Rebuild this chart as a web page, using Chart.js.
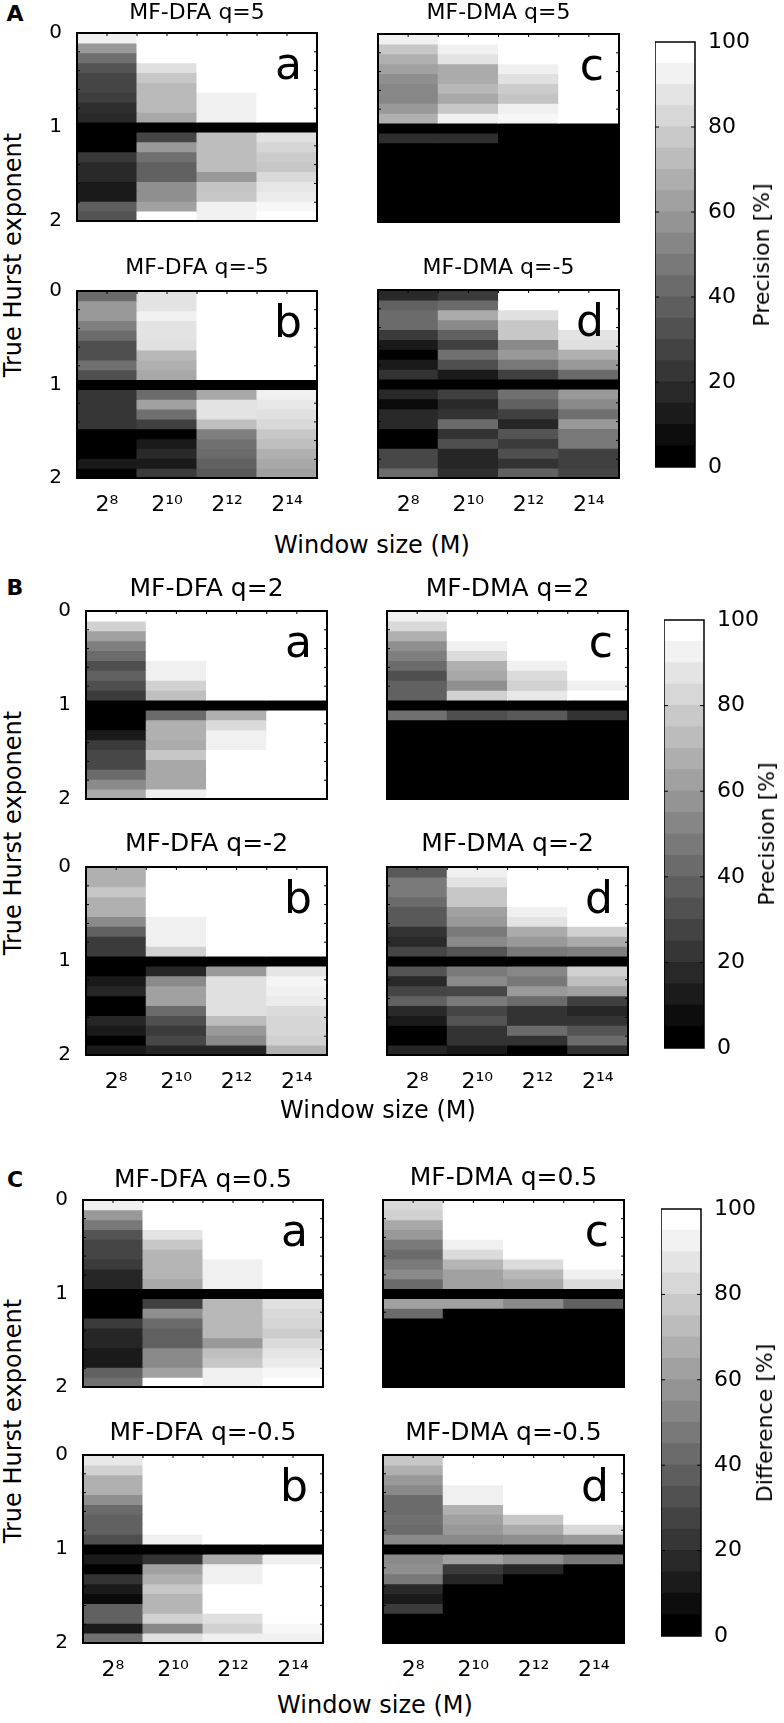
<!DOCTYPE html>
<html>
<head>
<meta charset="utf-8">
<script src="https://cdn.jsdelivr.net/npm/chart.js@4.4.1/dist/chart.umd.min.js"></script>
<style>
  html, body { margin: 0; padding: 0; background: #fff; }
  #fig { position: relative; width: 784px; height: 1723px; overflow: hidden; font-family: 'DejaVu Sans', sans-serif; color: #000; }
  #fig canvas { position: absolute; }
  .lbl { position: absolute; white-space: nowrap; line-height: 1; }
</style>
</head>
<body>
<div id="fig"></div>
<script>
// window sizes (columns) and true Hurst exponents (rows, top to bottom)
const windowLabels = ['2⁸', '2¹⁰', '2¹²', '2¹⁴'];
const hurstRows = ['0.1', '0.2', '0.3', '0.4', '0.5', '0.6', '0.7', '0.8', '0.9', '1.0',
                   '1.1', '1.2', '1.3', '1.4', '1.5', '1.6', '1.7', '1.8', '1.9'];
const hurstTicks = ['0', '1', '2'];
const colorbarTicks = [0, 20, 40, 60, 80, 100];
const colorbarLevels = [0, 5, 10, 15, 20, 25, 30, 35, 40, 45, 50, 55, 60, 65, 70, 75, 80, 85, 90, 95];

// precision / difference [%], one row per Hurst value: [2^8, 2^10, 2^12, 2^14]
const dfaQ5 = [
  [94, 100, 100, 100], [60, 100, 100, 100], [43, 100, 100, 100], [33, 88, 100, 100],
  [27, 78, 100, 100], [27, 73, 100, 100], [24, 73, 94, 100], [18, 73, 94, 100],
  [16, 66, 94, 100], [0, 0, 0, 0], [0, 27, 74, 88], [0, 60, 74, 84],
  [22, 44, 74, 80], [16, 38, 74, 78], [16, 38, 60, 85], [10, 56, 77, 90],
  [10, 56, 78, 92], [37, 63, 94, 97], [33, 100, 94, 100]
];
const dmaQ5 = [
  [94, 100, 100, 100], [78, 94, 100, 100], [69, 89, 100, 100], [63, 67, 94, 100],
  [56, 67, 88, 100], [53, 72, 80, 100], [53, 66, 77, 100], [60, 78, 94, 100],
  [69, 94, 97, 100], [0, 0, 0, 0], [18, 18, 0, 0], [0, 0, 0, 0],
  [0, 0, 0, 0], [0, 0, 0, 0], [0, 0, 0, 0], [0, 0, 0, 0],
  [0, 0, 0, 0], [0, 0, 0, 0], [0, 0, 0, 0]
];
const dfaQm5 = [
  [42, 89, 100, 100], [60, 89, 100, 100], [60, 94, 100, 100], [50, 89, 100, 100],
  [42, 89, 100, 100], [31, 88, 100, 100], [31, 72, 100, 100], [44, 69, 100, 100],
  [31, 66, 100, 100], [0, 0, 0, 0], [21, 42, 66, 94], [21, 63, 89, 91],
  [21, 44, 89, 88], [21, 25, 75, 85], [0, 0, 50, 78], [0, 10, 44, 75],
  [0, 16, 42, 69], [10, 10, 38, 66], [0, 23, 35, 63]
];
const dmaQm5 = [
  [16, 23, 100, 100], [38, 42, 100, 100], [42, 67, 88, 100], [42, 54, 78, 100],
  [23, 38, 78, 89], [10, 25, 54, 88], [0, 44, 60, 69], [10, 31, 47, 60],
  [20, 10, 25, 42], [0, 0, 0, 0], [16, 25, 44, 60], [4, 16, 38, 54],
  [16, 20, 25, 44], [16, 42, 15, 60], [0, 20, 33, 47], [0, 31, 23, 47],
  [28, 15, 31, 25], [28, 15, 20, 25], [42, 18, 38, 27]
];
const dfaQ2 = [
  [100, 100, 100, 100], [82, 100, 100, 100], [63, 100, 100, 100], [50, 100, 100, 100],
  [42, 100, 100, 100], [31, 94, 100, 100], [38, 94, 100, 100], [31, 82, 100, 100],
  [23, 75, 100, 100], [0, 0, 0, 0], [0, 42, 69, 100], [0, 69, 86, 100],
  [10, 69, 94, 100], [23, 67, 94, 100], [28, 78, 100, 100], [28, 66, 100, 100],
  [42, 66, 100, 100], [54, 66, 100, 100], [67, 94, 100, 100]
];
const dmaQ2 = [
  [94, 100, 100, 100], [85, 100, 100, 100], [69, 100, 100, 100], [56, 94, 100, 100],
  [50, 86, 100, 100], [42, 69, 94, 100], [31, 66, 86, 100], [38, 56, 82, 94],
  [38, 82, 91, 100], [0, 0, 0, 0], [44, 31, 35, 20], [0, 0, 0, 0],
  [0, 0, 0, 0], [0, 0, 0, 0], [0, 0, 0, 0], [0, 0, 0, 0],
  [0, 0, 0, 0], [0, 0, 0, 0], [0, 0, 0, 0]
];
const dfaQm2 = [
  [69, 100, 100, 100], [69, 100, 100, 100], [78, 100, 100, 100], [69, 100, 100, 100],
  [69, 100, 100, 100], [54, 94, 100, 100], [38, 94, 100, 100], [23, 94, 100, 100],
  [23, 82, 100, 100], [0, 0, 0, 0], [0, 15, 60, 90], [10, 54, 88, 96],
  [15, 63, 88, 94], [0, 63, 88, 92], [0, 42, 88, 86], [15, 31, 74, 84],
  [10, 23, 60, 84], [0, 28, 54, 82], [10, 15, 15, 70]
];
const dmaQm2 = [
  [35, 94, 100, 100], [48, 89, 100, 100], [48, 78, 100, 100], [42, 78, 100, 100],
  [35, 63, 94, 100], [35, 60, 89, 100], [20, 48, 67, 82], [16, 54, 60, 67],
  [27, 33, 47, 50], [0, 0, 0, 0], [33, 48, 53, 82], [16, 54, 47, 75],
  [27, 28, 60, 63], [38, 48, 42, 25], [16, 27, 20, 15], [10, 33, 20, 20],
  [0, 20, 42, 33], [0, 20, 20, 42], [15, 10, 0, 20]
];
const dfaQ05 = [
  [94, 100, 100, 100], [60, 100, 100, 100], [47, 100, 100, 100], [33, 89, 100, 100],
  [27, 78, 100, 100], [27, 71, 100, 100], [23, 71, 94, 100], [15, 71, 94, 100],
  [15, 66, 94, 100], [0, 0, 0, 0], [0, 25, 72, 88], [0, 56, 72, 85],
  [23, 42, 72, 84], [15, 38, 72, 80], [15, 38, 60, 86], [10, 54, 75, 90],
  [10, 54, 78, 92], [38, 63, 94, 97], [44, 100, 94, 100]
];
const dmaQ05 = [
  [85, 100, 100, 100], [82, 100, 100, 100], [66, 100, 100, 100], [60, 100, 100, 100],
  [48, 94, 100, 100], [42, 86, 100, 100], [48, 71, 86, 100], [54, 63, 72, 94],
  [42, 63, 66, 86], [0, 0, 0, 0], [63, 63, 54, 38], [42, 0, 0, 0],
  [0, 0, 0, 0], [0, 0, 0, 0], [0, 0, 0, 0], [0, 0, 0, 0],
  [0, 0, 0, 0], [0, 0, 0, 0], [0, 0, 0, 0]
];
const dfaQm05 = [
  [91, 100, 100, 100], [82, 100, 100, 100], [69, 100, 100, 100], [69, 100, 100, 100],
  [56, 100, 100, 100], [42, 100, 100, 100], [38, 100, 100, 100], [38, 100, 100, 100],
  [31, 94, 100, 100], [0, 0, 0, 0], [10, 20, 67, 94], [0, 63, 94, 100],
  [20, 69, 94, 100], [10, 78, 100, 100], [4, 71, 100, 100], [38, 71, 100, 100],
  [38, 82, 88, 100], [10, 53, 82, 97], [44, 88, 94, 94]
];
const dmaQm05 = [
  [78, 100, 100, 100], [69, 100, 100, 100], [60, 100, 100, 100], [54, 94, 100, 100],
  [42, 94, 100, 100], [42, 69, 100, 100], [44, 63, 78, 100], [42, 60, 67, 85],
  [54, 54, 56, 60], [0, 0, 0, 0], [54, 63, 56, 47], [56, 23, 15, 0],
  [47, 15, 0, 0], [16, 0, 0, 0], [10, 0, 0, 0], [23, 0, 0, 0],
  [0, 0, 0, 0], [0, 0, 0, 0], [0, 0, 0, 0]
];

const fontFam = "'DejaVu Sans', sans-serif";
const fig = document.getElementById('fig');

function grey(v) {
  const g = Math.round(v * 2.55);
  return `rgb(${g},${g},${g})`;
}

// black frame, small inner tick marks and the panel letter
const framePlugin = {
  id: 'frame',
  afterDatasetsDraw(chart, args, opts) {
    const { ctx, chartArea: a } = chart;
    ctx.save();
    ctx.strokeStyle = '#000';
    ctx.lineWidth = opts.width;
    ctx.strokeRect(a.left, a.top, a.right - a.left, a.bottom - a.top);
    ctx.lineWidth = 1;
    ctx.beginPath();
    if (opts.tickScale) {
      // colorbar: marks at each labelled value on both sides
      const sc = chart.scales[opts.tickScale];
      sc.ticks.forEach(t => {
        const y = sc.getPixelForValue(t.value);
        if (y <= a.top + 1 || y >= a.bottom - 1) return;
        ctx.moveTo(a.left, y); ctx.lineTo(a.left + 4, y);
        ctx.moveTo(a.right, y); ctx.lineTo(a.right - 4, y);
      });
    }
    if (opts.minorTicks) {
      // heatmap: top marks every half column, side marks every 0.2 in H
      const xs = chart.scales.x, ys = chart.scales.y;
      const n = windowLabels.length;
      for (let i = 0; i < n * 2 - 1; i++) {
        const x = xs.getPixelForValue(i / 2);
        ctx.moveTo(x, a.top); ctx.lineTo(x, a.top + 3);
      }
      for (let k = 1; k < 10; k++) {
        const y = ys.getPixelForValue(k * hurstRows.length / 10);
        ctx.moveTo(a.left, y); ctx.lineTo(a.left + 3, y);
        ctx.moveTo(a.right, y); ctx.lineTo(a.right - 3, y);
      }
    }
    ctx.stroke();
    if (opts.letter) {
      ctx.font = `44px ${fontFam}`;
      ctx.fillStyle = '#000';
      ctx.textAlign = 'right';
      ctx.textBaseline = 'alphabetic';
      ctx.fillText(opts.letter, a.right - 15, a.top + 46);
    }
    ctx.restore();
  }
};

function addCanvas(left, top, w, h) {
  const c = document.createElement('canvas');
  c.width = w; c.height = h;
  c.style.left = left + 'px'; c.style.top = top + 'px';
  c.style.width = w + 'px'; c.style.height = h + 'px';
  fig.appendChild(c);
  return c;
}

function drawHeatmap(p) {
  const S = p.titleSize;
  const yW = 50, rightPad = 2;
  const xH = p.showX ? 45 : 30;
  const top = Math.round(p.titleY - 0.6 * S);
  const titlePad = p.top - top - 1.2 * S;
  const w = (p.right - p.left) + yW + rightPad;
  const h = (p.bottom - top) + xH;
  const canvas = addCanvas(p.left - yW, top, w, h);

  // one stacked dataset per Hurst row, each cell one row tall
  const datasets = hurstRows.map((hr, r) => ({
    label: 'H = ' + hr,
    data: windowLabels.map(() => 1),
    backgroundColor: p.matrix[r].map(grey),
    borderWidth: 0,
    inflateAmount: 0.5,
    barPercentage: 1,
    categoryPercentage: 1
  }));

  new Chart(canvas, {
    type: 'bar',
    data: { labels: windowLabels, datasets: datasets },
    plugins: [framePlugin],
    options: {
      responsive: false,
      animation: false,
      layout: { padding: { top: 0, right: rightPad, bottom: 0, left: 0 } },
      plugins: {
        legend: { display: false },
        tooltip: { enabled: false },
        title: {
          display: true, text: p.title, fullSize: false, color: '#000',
          font: { family: fontFam, size: S, weight: 'normal' },
          padding: { top: 0, bottom: titlePad }
        },
        frame: { width: 2, letter: p.letter, minorTicks: true }
      },
      scales: {
        x: {
          stacked: true,
          grid: { display: false, drawTicks: false },
          border: { display: false },
          ticks: { display: p.showX, color: '#000', padding: 14, maxRotation: 0, autoSkip: false,
                   font: { family: fontFam, size: 22 } },
          afterFit: s => { s.height = xH; }
        },
        y: {
          type: 'linear', position: 'left', stacked: true, reverse: true,
          min: 0, max: hurstRows.length,
          afterBuildTicks: s => {
            s.ticks = hurstTicks.map((t, i) => ({ value: i * hurstRows.length / (hurstTicks.length - 1) }));
          },
          grid: { display: false, drawTicks: false },
          border: { display: false },
          ticks: { display: p.showY, color: '#000', padding: 15,
                   font: { family: fontFam, size: 20 },
                   callback: (v, i) => hurstTicks[i] },
          afterFit: s => { s.width = yW; }
        }
      }
    }
  });
}

function drawColorbar(cb) {
  const pad = 30, axisW = 60;
  const barW = cb.right - cb.left;
  const canvas = addCanvas(cb.left, cb.top - pad, barW + axisW, (cb.bottom - cb.top) + 2 * pad);
  const datasets = colorbarLevels.map(lv => ({
    label: lv + '%',
    data: [[lv, lv + 5]],
    backgroundColor: grey(lv / 0.95),
    borderWidth: 0,
    inflateAmount: 0.5,
    barPercentage: 1,
    categoryPercentage: 1,
    grouped: false
  }));
  new Chart(canvas, {
    type: 'bar',
    data: { labels: [''], datasets: datasets },
    plugins: [framePlugin],
    options: {
      responsive: false,
      animation: false,
      layout: { padding: { top: pad, bottom: pad, left: 0, right: 0 } },
      plugins: {
        legend: { display: false },
        tooltip: { enabled: false },
        frame: { width: 1.5, tickScale: 'y' }
      },
      scales: {
        x: { display: false },
        y: {
          type: 'linear', position: 'right', min: 0, max: 100,
          afterBuildTicks: s => { s.ticks = colorbarTicks.map(v => ({ value: v })); },
          grid: { display: false, drawTicks: false },
          border: { display: false },
          ticks: { color: '#000', padding: 13, font: { family: fontFam, size: 22 } },
          afterFit: s => { s.width = axisW; }
        }
      }
    }
  });
}

function addLabel(text, cx, cy, size, opts) {
  const d = document.createElement('div');
  d.className = 'lbl';
  d.textContent = text;
  d.style.fontSize = size + 'px';
  d.style.left = cx + 'px';
  d.style.top = cy + 'px';
  if (opts && opts.bold) d.style.fontWeight = 'bold';
  d.style.transform = 'translate(-50%, -50%)' + (opts && opts.rotate ? ' rotate(-90deg)' : '');
  fig.appendChild(d);
}

// panel placement (pixels)
const panels = [
  { title: 'MF-DFA q=5',    letter: 'a', matrix: dfaQ5,   left: 77,  top: 33,   right: 317, bottom: 221,  titleY: 13.5, titleSize: 22, showY: true,  showX: false },
  { title: 'MF-DMA q=5',    letter: 'c', matrix: dmaQ5,   left: 378, top: 34,   right: 619, bottom: 222,  titleY: 13.5, titleSize: 22, showY: false, showX: false },
  { title: 'MF-DFA q=-5',   letter: 'b', matrix: dfaQm5,  left: 77,  top: 291,  right: 317, bottom: 478,  titleY: 268,  titleSize: 22, showY: true,  showX: true },
  { title: 'MF-DMA q=-5',   letter: 'd', matrix: dmaQm5,  left: 378, top: 290,  right: 619, bottom: 478,  titleY: 268,  titleSize: 22, showY: false, showX: true },
  { title: 'MF-DFA q=2',    letter: 'a', matrix: dfaQ2,   left: 86,  top: 611,  right: 327, bottom: 799,  titleY: 589,  titleSize: 25, showY: true,  showX: false },
  { title: 'MF-DMA q=2',    letter: 'c', matrix: dmaQ2,   left: 387, top: 611,  right: 628, bottom: 799,  titleY: 589,  titleSize: 25, showY: false, showX: false },
  { title: 'MF-DFA q=-2',   letter: 'b', matrix: dfaQm2,  left: 86,  top: 867,  right: 327, bottom: 1055, titleY: 844,  titleSize: 25, showY: true,  showX: true },
  { title: 'MF-DMA q=-2',   letter: 'd', matrix: dmaQm2,  left: 387, top: 867,  right: 628, bottom: 1055, titleY: 844,  titleSize: 25, showY: false, showX: true },
  { title: 'MF-DFA q=0.5',  letter: 'a', matrix: dfaQ05,  left: 83,  top: 1200, right: 323, bottom: 1387, titleY: 1180, titleSize: 25, showY: true,  showX: false },
  { title: 'MF-DMA q=0.5',  letter: 'c', matrix: dmaQ05,  left: 383, top: 1200, right: 624, bottom: 1387, titleY: 1178, titleSize: 25, showY: false, showX: false },
  { title: 'MF-DFA q=-0.5', letter: 'b', matrix: dfaQm05, left: 83,  top: 1455, right: 323, bottom: 1643, titleY: 1433, titleSize: 25, showY: true,  showX: true },
  { title: 'MF-DMA q=-0.5', letter: 'd', matrix: dmaQm05, left: 383, top: 1455, right: 624, bottom: 1643, titleY: 1433, titleSize: 25, showY: false, showX: true }
];
const colorbars = [
  { left: 655, top: 42,   right: 695, bottom: 467,  label: 'Precision [%]',  labelX: 762 },
  { left: 664, top: 620,  right: 704, bottom: 1048, label: 'Precision [%]',  labelX: 767 },
  { left: 661, top: 1209, right: 701, bottom: 1636, label: 'Difference [%]', labelX: 765 }
];
const sections = [
  { name: 'A', nameY: 14,   yLabelY: 255,  xLabelX: 372, xLabelY: 545 },
  { name: 'B', nameY: 588,  yLabelY: 833,  xLabelX: 378, xLabelY: 1110 },
  { name: 'C', nameY: 1180, yLabelY: 1421, xLabelX: 375, xLabelY: 1705 }
];

panels.forEach(drawHeatmap);
colorbars.forEach(cb => {
  drawColorbar(cb);
  addLabel(cb.label, cb.labelX, (cb.top + cb.bottom) / 2, 22, { rotate: true });
});
sections.forEach(s => {
  addLabel(s.name, 15, s.nameY, 22, { bold: true });
  addLabel('True Hurst exponent', 13, s.yLabelY, 24, { rotate: true });
  addLabel('Window size (M)', s.xLabelX, s.xLabelY, 24);
});
</script>
</body>
</html>
